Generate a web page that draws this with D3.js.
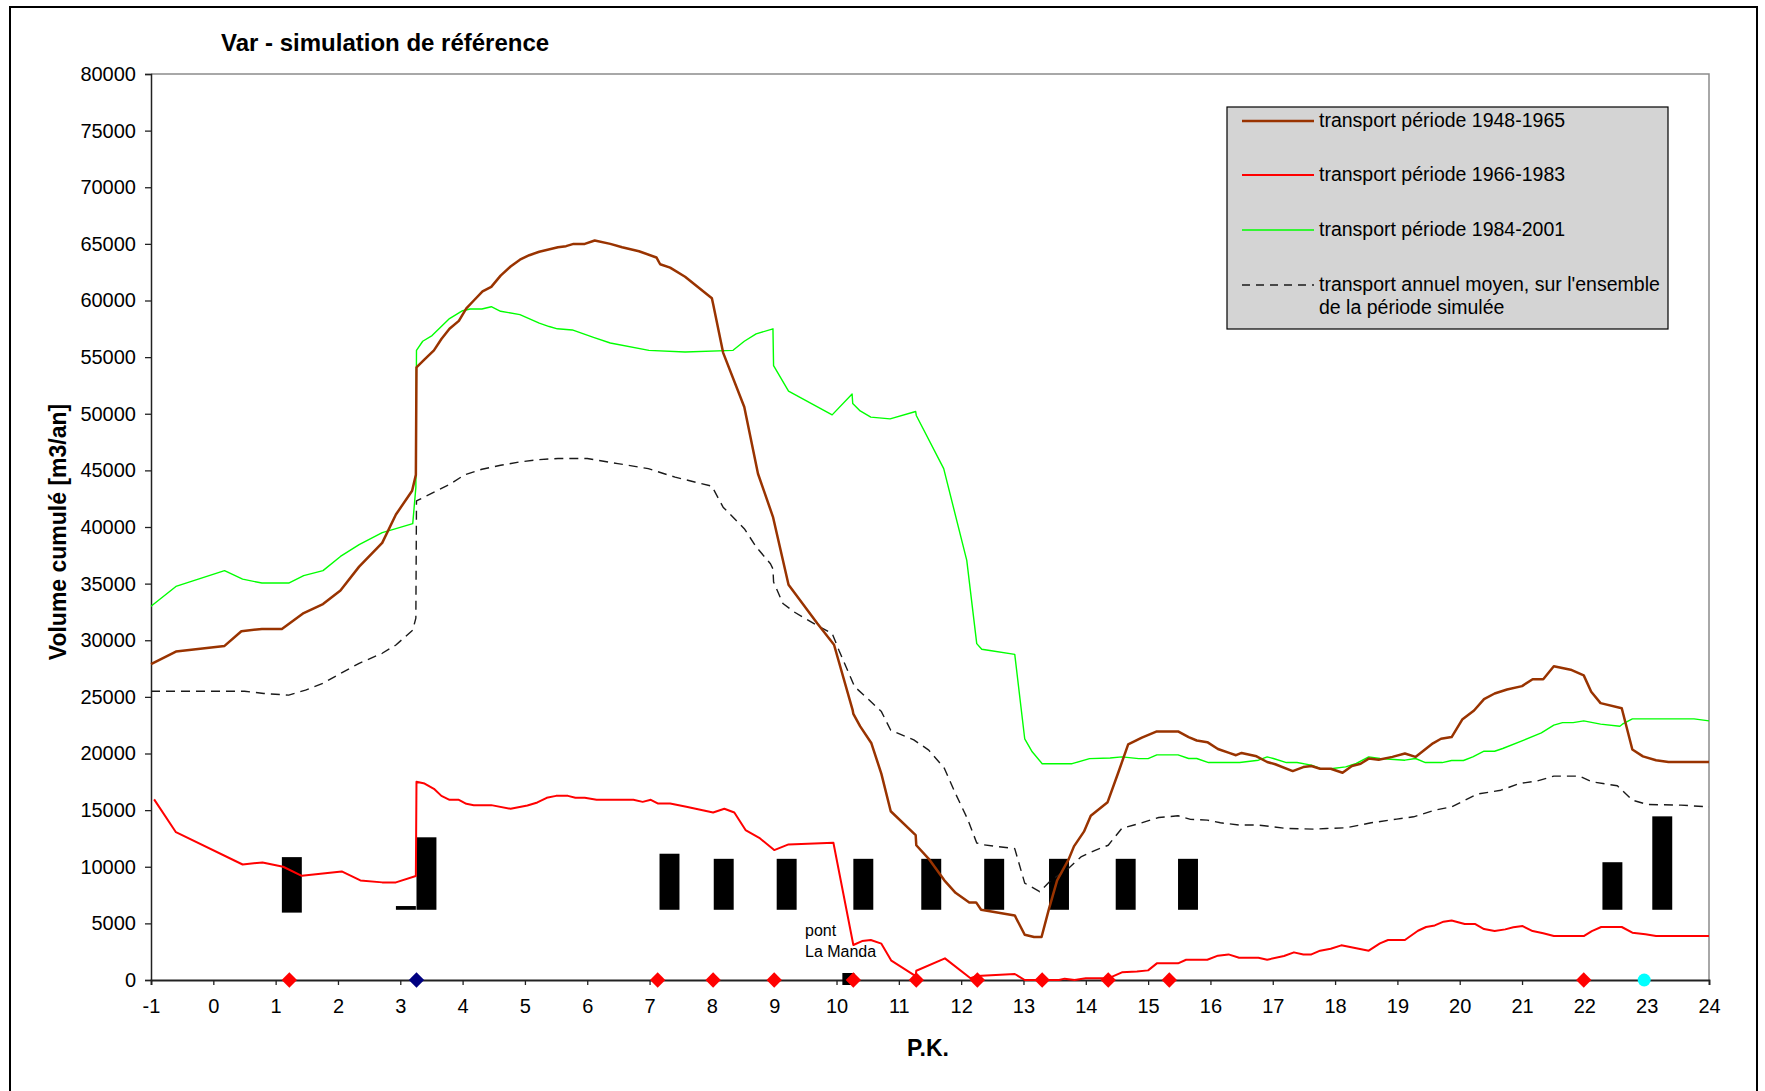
<!DOCTYPE html>
<html>
<head>
<meta charset="utf-8">
<script src="https://cdn.jsdelivr.net/npm/d3@7"></script>
<style>
html,body{margin:0;padding:0;background:#fff;}
svg text{font-family:"Liberation Sans",Arial,sans-serif;}
</style>
</head>
<body>
<svg id="chart" width="1765" height="1091"></svg>
<script>
// ---------- DATA ----------
const title = "Var - simulation de référence";
const yLabel = "Volume cumulé [m3/an]";
const xLabel = "P.K.";
const xTicks = d3.range(-1, 25);
const yTicks = d3.range(0, 80001, 5000);

const legendLabels = [
  ["transport période 1948-1965"],
  ["transport période 1966-1983"],
  ["transport période 1984-2001"],
  ["transport annuel moyen, sur l'ensemble", "de la période simulée"]
];

// transport période 1948-1965 [P.K., m3/an]
const series1948 = [[-1,27900],[-0.6,29000],[0.18,29500],[0.45,30800],[0.78,31000],[1.1,31000],[1.45,32400],[1.76,33200],[2.04,34400],[2.34,36500],[2.71,38600],[2.93,41100],[3.19,43200],[3.25,44600],[3.26,54100],[3.39,54800],[3.54,55600],[3.66,56600],[3.79,57500],[3.94,58200],[4.06,59300],[4.18,60000],[4.32,60800],[4.46,61200],[4.61,62200],[4.77,63000],[4.92,63600],[5.07,64000],[5.23,64300],[5.38,64500],[5.53,64700],[5.66,64800],[5.78,65000],[5.96,65000],[6.12,65300],[6.37,65000],[6.56,64700],[6.83,64350],[7.11,63800],[7.17,63200],[7.33,62900],[7.57,62100],[8.0,60200],[8.02,59700],[8.18,55400],[8.52,50600],[8.74,44700],[8.98,40900],[9.23,34900],[9.69,31500],[9.96,29600],[10.26,23800],[10.27,23500],[10.38,22400],[10.56,20900],[10.72,18200],[10.87,14900],[11.27,12800],[11.28,11900],[11.48,10700],[11.73,8800],[11.91,7700],[12.13,6850],[12.24,6850],[12.32,6200],[12.86,5700],[13.02,4000],[13.17,3800],[13.29,3800],[13.41,6300],[13.54,8800],[13.72,10600],[13.81,11800],[13.97,13100],[14.08,14500],[14.35,15700],[14.52,18300],[14.68,20800],[14.9,21400],[15.14,21950],[15.48,21950],[15.65,21450],[15.78,21150],[15.95,21000],[16.12,20400],[16.3,20050],[16.41,19850],[16.5,20050],[16.74,19750],[16.91,19250],[17.04,19050],[17.32,18450],[17.49,18800],[17.62,18900],[17.76,18650],[17.93,18650],[18.12,18300],[18.27,18900],[18.41,19100],[18.54,19550],[18.7,19450],[18.92,19700],[19.12,20000],[19.29,19700],[19.57,20900],[19.7,21300],[19.87,21450],[20.04,23000],[20.23,23800],[20.39,24800],[20.56,25300],[20.76,25650],[21.0,25950],[21.17,26550],[21.34,26550],[21.51,27700],[21.78,27400],[21.99,26900],[22.11,25450],[22.26,24450],[22.6,24000],[22.77,20350],[22.94,19750],[23.15,19400],[23.35,19250],[24,19250]];

// transport période 1966-1983
const series1966 = [[-0.95,15950],[-0.6,13050],[0.47,10200],[0.79,10380],[1.12,10000],[1.42,9200],[2.06,9590],[2.36,8790],[2.71,8620],[2.93,8620],[3.25,9180],[3.26,17500],[3.39,17350],[3.54,16880],[3.66,16260],[3.79,15910],[3.94,15910],[4.06,15560],[4.18,15440],[4.46,15440],[4.77,15120],[5.04,15410],[5.2,15680],[5.35,16090],[5.5,16260],[5.69,16260],[5.81,16090],[5.96,16090],[6.15,15910],[6.74,15910],[6.89,15730],[7.02,15910],[7.13,15590],[7.33,15590],[7.59,15290],[8.02,14790],[8.2,15120],[8.36,14790],[8.54,13240],[8.76,12560],[9.0,11470],[9.23,11970],[9.95,12120],[10.27,3090],[10.41,3440],[10.55,3530],[10.72,3210],[10.88,1710],[11.27,350],[11.28,820],[11.74,1910],[12.15,150],[12.25,350],[12.86,530],[13.02,0],[13.57,0],[13.66,120],[13.82,0],[14.0,150],[14.36,150],[14.58,680],[14.82,760],[15.0,850],[15.14,1470],[15.48,1470],[15.61,1790],[15.95,1790],[16.12,2150],[16.29,2260],[16.46,1970],[16.77,1970],[16.91,1790],[17.18,2120],[17.34,2440],[17.49,2260],[17.62,2260],[17.76,2590],[17.93,2760],[18.1,3060],[18.54,2590],[18.72,3240],[18.85,3530],[19.12,3530],[19.33,4350],[19.46,4680],[19.6,4820],[19.74,5150],[19.87,5260],[20.08,4940],[20.25,4940],[20.39,4500],[20.56,4320],[20.73,4470],[20.86,4650],[21.01,4760],[21.17,4320],[21.34,4120],[21.51,3880],[21.99,3880],[22.12,4320],[22.27,4680],[22.6,4680],[22.77,4180],[22.98,4030],[23.15,3880],[24,3880]];

// transport période 1984-2001
const series1984 = [[-1,33000],[-0.6,34750],[0.18,36150],[0.47,35400],[0.78,35050],[1.21,35050],[1.45,35700],[1.76,36150],[2.04,37400],[2.34,38450],[2.71,39500],[2.93,39850],[3.2,40300],[3.25,43500],[3.26,55600],[3.36,56400],[3.51,56900],[3.79,58400],[4.0,59100],[4.12,59250],[4.31,59250],[4.46,59450],[4.61,59050],[4.92,58750],[5.23,58000],[5.39,57700],[5.52,57500],[5.76,57400],[6.1,56750],[6.37,56250],[6.99,55600],[7.57,55450],[8.34,55600],[8.52,56400],[8.71,57050],[8.98,57500],[8.99,54250],[9.23,52000],[9.93,49900],[10.25,51750],[10.26,50900],[10.38,50250],[10.55,49700],[10.86,49550],[11.27,50200],[11.28,49850],[11.72,45150],[12.09,37050],[12.25,29700],[12.33,29200],[12.46,29100],[12.86,28750],[13.02,21300],[13.14,20150],[13.3,19100],[13.78,19100],[14.06,19550],[14.39,19600],[14.58,19700],[14.85,19550],[15.0,19550],[15.14,19880],[15.48,19880],[15.65,19560],[15.78,19560],[15.97,19200],[16.47,19200],[16.77,19410],[16.91,19700],[17.01,19560],[17.22,19200],[17.39,19200],[17.62,18970],[17.76,18680],[17.93,18650],[18.17,18820],[18.34,19120],[18.54,19700],[18.72,19560],[19.12,19410],[19.29,19560],[19.45,19200],[19.72,19200],[19.87,19380],[20.06,19380],[20.21,19700],[20.39,20200],[20.56,20200],[20.69,20440],[21.03,21180],[21.31,21820],[21.51,22500],[21.65,22730],[21.82,22730],[21.99,22880],[22.26,22590],[22.57,22410],[22.61,22590],[22.77,23060],[23.76,23060],[24.0,22880]];

// transport annuel moyen
const seriesMean = [[-1,25500],[0.5,25500],[0.81,25300],[1.21,25150],[1.48,25600],[1.76,26200],[2.04,27070],[2.34,27960],[2.71,28850],[2.93,29580],[3.2,30900],[3.25,31950],[3.26,42300],[3.51,43000],[3.79,43750],[4.03,44600],[4.31,45100],[4.61,45450],[4.92,45750],[5.23,45950],[5.53,46050],[6.0,46050],[6.49,45600],[6.98,45150],[7.41,44400],[8.0,43600],[8.18,41750],[8.52,39850],[8.71,38250],[8.94,36750],[8.98,36300],[8.99,35150],[9.14,33250],[9.32,32500],[9.69,31300],[9.93,30600],[10.04,29100],[10.29,25900],[10.5,24850],[10.72,23700],[10.87,22050],[11.24,21200],[11.48,20300],[11.73,18700],[11.91,16450],[12.1,14250],[12.25,12100],[12.34,11950],[12.86,11600],[13.02,8550],[13.26,7800],[13.44,8800],[13.72,9850],[13.93,10900],[14.15,11450],[14.36,11900],[14.58,13400],[14.85,13800],[15.17,14350],[15.48,14500],[15.68,14180],[15.95,14120],[16.16,13880],[16.47,13680],[16.77,13680],[17.22,13380],[17.66,13320],[17.86,13380],[18.17,13440],[18.58,13880],[18.99,14210],[19.26,14410],[19.6,15000],[19.87,15290],[20.28,16410],[20.66,16760],[20.96,17350],[21.23,17560],[21.51,18000],[21.92,18000],[22.12,17500],[22.53,17150],[22.77,15880],[23.01,15500],[23.55,15440],[24.0,15290]];

// black range bars [P.K., low, high]
const barPK   = [1.26, 3.09, 3.42, 7.32, 8.19, 9.2, 10.43, 11.52, 12.53, 13.57, 14.64, 15.64, 22.45, 23.25];
const barLow  = [5950, 6200, 6200, 6200, 6200, 6200, 6200, 6200, 6200, 6200, 6200, 6200, 6200, 6200];
const barHigh = [10850, 6530, 12600, 11150, 10700, 10700, 10700, 10700, 10700, 10700, 10700, 10700, 10400, 14450];
const barWidthPK = 0.32;

// markers on the axis
const redDiamondPK = [1.22, 7.13, 8.02, 9.0, 10.27, 11.28, 12.26, 13.3, 14.36, 15.34, 21.99];
const navyDiamondPK = [3.26];
const cyanCirclePK = [22.96];
const blackSquarePK = [10.19];

const annotation = ["pont", "La Manda"];

// ---------- DRAW ----------
const svg = d3.select("#chart");
const W = 1765, H = 1091;
const pLeft = 151, pRight = 1709, pTop = 74, pBottom = 980;

const x = d3.scaleLinear().domain([-1, 24]).range([pLeft, pRight]);
const y = d3.scaleLinear().domain([0, 80000]).range([pBottom, pTop]);

svg.append("rect").attr("x",0).attr("y",0).attr("width",W).attr("height",H).attr("fill","#fff");
// outer frame
svg.append("rect").attr("x",10).attr("y",7).attr("width",1747).attr("height",1110)
  .attr("fill","none").attr("stroke","#000").attr("stroke-width",2);

// plot frame top/right (gray)
svg.append("path").attr("d",`M${pLeft},${pTop}H${pRight}V${pBottom}`)
  .attr("fill","none").attr("stroke","#8c8c8c").attr("stroke-width",1.5);

// title
svg.append("text").attr("x",221).attr("y",51).attr("font-size",24).attr("font-weight","bold").text(title);

// y axis
const yAxis = d3.axisLeft(y).tickValues(yTicks).tickSize(6).tickPadding(9).tickFormat(d => String(d));
const gy = svg.append("g").attr("transform",`translate(${pLeft},0)`).call(yAxis);
gy.select(".domain").attr("stroke","#222").attr("stroke-width",1.5);
gy.selectAll(".tick line").attr("stroke","#222").attr("stroke-width",1.3);
gy.selectAll(".tick text").attr("font-size",20).attr("fill","#000").attr("font-family","Liberation Sans, Arial, sans-serif");

// x axis
const xAxis = d3.axisBottom(x).tickValues(xTicks).tickSize(5).tickPadding(14).tickFormat(d => String(d));
const gx = svg.append("g").attr("transform",`translate(0,${pBottom})`).call(xAxis);
gx.select(".domain").attr("stroke","#222").attr("stroke-width",1.8);
gx.selectAll(".tick line").attr("stroke","#222").attr("stroke-width",1.3);
gx.selectAll(".tick text").attr("font-size",20).attr("fill","#000").attr("font-family","Liberation Sans, Arial, sans-serif");

// axis titles
svg.append("text").attr("x",928).attr("y",1056).attr("text-anchor","middle")
  .attr("font-size",23).attr("font-weight","bold").text(xLabel);
svg.append("text").attr("transform","translate(66,532) rotate(-90)").attr("text-anchor","middle")
  .attr("font-size",23).attr("font-weight","bold").text(yLabel);

// bars
const bars = barPK.map((p,i)=>({p, lo:barLow[i], hi:barHigh[i]}));
const bw = x(barWidthPK) - x(0);
svg.append("g").selectAll("rect").data(bars).join("rect")
  .attr("x",d=>x(d.p)-bw/2).attr("width",bw)
  .attr("y",d=>y(d.hi)).attr("height",d=>y(d.lo)-y(d.hi))
  .attr("fill","#000");

// lines
const line = d3.line().x(d=>x(d[0])).y(d=>y(d[1]));
const lineStyles = [
  {data: seriesMean, color:"#1a1a1a", width:1.4, dash:"9,6"},
  {data: series1984, color:"#00ff00", width:1.4, dash:null},
  {data: series1966, color:"#ff0000", width:2, dash:null},
  {data: series1948, color:"#993300", width:2.5, dash:null}
];
lineStyles.forEach(s=>{
  svg.append("path").attr("d",line(s.data)).attr("fill","none")
    .attr("stroke",s.color).attr("stroke-width",s.width)
    .attr("stroke-dasharray",s.dash).attr("stroke-linejoin","round");
});

// markers
const sq = 12;
svg.append("g").selectAll("rect").data(blackSquarePK).join("rect")
  .attr("x",d=>x(d)-sq/2).attr("y",y(0)-sq/2-1).attr("width",sq).attr("height",sq).attr("fill","#000");
const diamond = d3.symbol().type(d3.symbolDiamond2).size(150);
svg.append("g").selectAll("path").data(redDiamondPK).join("path")
  .attr("d",diamond).attr("transform",d=>`translate(${x(d)},${y(0)})`).attr("fill","#ff0000");
svg.append("g").selectAll("path").data(navyDiamondPK).join("path")
  .attr("d",diamond).attr("transform",d=>`translate(${x(d)},${y(0)})`).attr("fill","#000080");
svg.append("g").selectAll("circle").data(cyanCirclePK).join("circle")
  .attr("cx",d=>x(d)).attr("cy",y(0)).attr("r",6.5).attr("fill","#00ffff");

// annotation
svg.append("text").attr("x",805).attr("y",936).attr("font-size",16).text(annotation[0]);
svg.append("text").attr("x",805).attr("y",957).attr("font-size",16).text(annotation[1]);

// legend
const lg = svg.append("g");
lg.append("rect").attr("x",1227).attr("y",107).attr("width",441).attr("height",222)
  .attr("fill","#d4d4d4").attr("stroke","#000").attr("stroke-width",1.2);
const rowY = [121, 175, 230, 285];
lineStyles.slice().reverse().forEach((s,i)=>{
  lg.append("line").attr("x1",1242).attr("x2",1314).attr("y1",rowY[i]).attr("y2",rowY[i])
    .attr("stroke", s.color).attr("stroke-width", s.width)
    .attr("stroke-dasharray", s.dash ? "8,6" : null);
  legendLabels[i].forEach((t,j)=>{
    lg.append("text").attr("x",1319).attr("y",rowY[i]+6+j*23).attr("font-size",19.5).text(t);
  });
});
</script>
</body>
</html>
